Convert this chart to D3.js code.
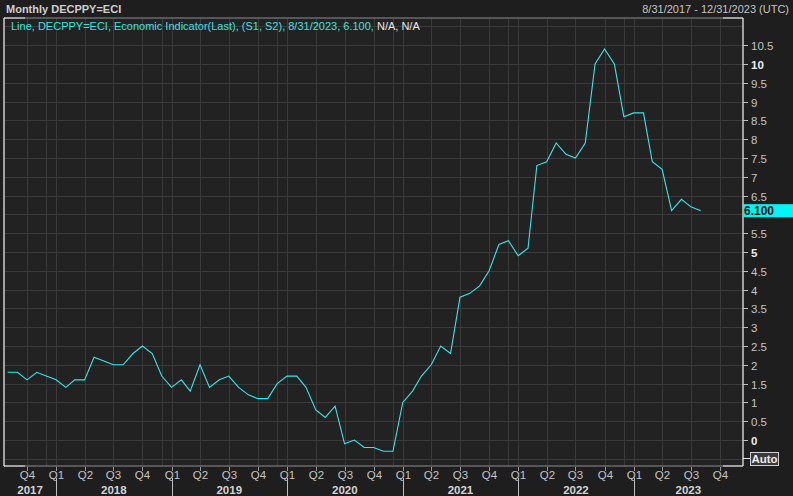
<!DOCTYPE html>
<html>
<head>
<meta charset="utf-8">
<script src="https://cdn.jsdelivr.net/npm/d3@7"></script>
<style>
  html, body { margin: 0; padding: 0; background: #1e1e1e; }
  svg { display: block; }
</style>
</head>
<body>
<svg id="chart" width="793" height="496"></svg>
<script>
// ---------- data ----------
const startMonth = "2017-08-01"; // first monthly observation
const values = [
  // 2017 Aug-Dec
  1.8, 1.8, 1.6, 1.8, 1.7,
  // 2018
  1.6, 1.4, 1.6, 1.6, 2.2, 2.1, 2.0, 2.0, 2.3, 2.5, 2.3, 1.7,
  // 2019
  1.4, 1.6, 1.3, 2.0, 1.4, 1.6, 1.7, 1.4, 1.2, 1.1, 1.1, 1.5,
  // 2020
  1.7, 1.7, 1.4, 0.8, 0.6, 0.9, -0.1, 0.0, -0.2, -0.2, -0.3, -0.3,
  // 2021
  1.0, 1.3, 1.7, 2.0, 2.5, 2.3, 3.8, 3.9, 4.1, 4.5, 5.2, 5.3,
  // 2022
  4.9, 5.1, 7.3, 7.4, 7.9, 7.6, 7.5, 7.9, 10.0, 10.4, 10.0, 8.6,
  // 2023 Jan-Aug
  8.7, 8.7, 7.4, 7.2, 6.1, 6.4, 6.2, 6.1
];
const yTicks = [0, 0.5, 1, 1.5, 2, 2.5, 3, 3.5, 4, 4.5, 5, 5.5, 6, 6.5, 7, 7.5, 8, 8.5, 9, 9.5, 10, 10.5];
const yBoldTicks = [0, 5, 10];
const yHiddenLabels = [6]; // covered by the last-value tag
const years = [2017, 2018, 2019, 2020, 2021, 2022, 2023];
const lastValueLabel = "6.100";
const titleText = "Monthly DECPPY=ECI";
const rangeText = "8/31/2017 - 12/31/2023 (UTC)";
const legendCyan = "Line, DECPPY=ECI, Economic Indicator(Last), (S1, S2), 8/31/2023, 6.100, ";
const legendWhite = "N/A, N/A";

// ---------- layout ----------
const L = 4, R = 743, T = 18, B = 466;
const FONT = "Liberation Sans, Arial, sans-serif";
const FS = 11;
const svg = d3.select("#chart");

const parse = d3.utcParse("%Y-%m-%d");
const d0 = parse(startMonth);
const data = values.map((v, i) => ({ date: d3.utcMonth.offset(d0, i), value: v }));

const x = d3.scaleUtc()
  .domain([parse("2017-10-01"), parse("2023-10-01")])
  .range([27, 720]);
const y = d3.scaleLinear().domain([0, 10]).range([440, 64]);

// backgrounds
svg.append("rect").attr("width", 793).attr("height", 496).attr("fill", "#1e1e1e");
svg.append("rect").attr("x", L).attr("y", T).attr("width", R - L).attr("height", B - T).attr("fill", "#222222");

svg.append("defs").append("clipPath").attr("id", "clip")
  .append("rect").attr("x", L).attr("y", T).attr("width", R - L).attr("height", B - T);

const grid = svg.append("g").attr("clip-path", "url(#clip)");

// horizontal grid every 0.5
const hGrid = d3.range(-1, 23).map(i => i * 0.5);
grid.selectAll("line.h").data(hGrid).join("line")
  .attr("x1", L).attr("x2", R)
  .attr("y1", d => Math.round(y(d)) + 0.5).attr("y2", d => Math.round(y(d)) + 0.5)
  .attr("stroke", "#3a3a3a").attr("stroke-width", 1);

// vertical grid at quarter starts and at Dec 1 of each year
const quarters = d3.utcMonth.every(3).range(parse("2017-10-01"), parse("2023-10-02"));
const decs = years.slice(0, 6).map(yr => parse(yr + "-12-01"));
grid.selectAll("line.vq").data(quarters.concat(decs)).join("line")
  .attr("y1", T).attr("y2", B)
  .attr("x1", d => Math.round(x(d)) + 0.5).attr("x2", d => Math.round(x(d)) + 0.5)
  .attr("stroke", "#3a3a3a").attr("stroke-width", 1);

// the series line
const line = d3.line().x(d => x(d.date)).y(d => y(d.value));
grid.append("path").datum(data)
  .attr("d", line)
  .attr("fill", "none")
  .attr("stroke", "#33e8e8")
  .attr("stroke-width", 1.1);

// frame
const frame = svg.append("g").attr("stroke-width", 1.3);
frame.append("line").attr("x1", L).attr("x2", L).attr("y1", T).attr("y2", B).attr("stroke", "#e8e8e8");
frame.append("line").attr("x1", R).attr("x2", R).attr("y1", T).attr("y2", B).attr("stroke", "#e8e8e8");
[T, B].forEach(yy => {
  frame.append("line").attr("x1", L).attr("x2", x(parse("2017-10-01")) - 2).attr("y1", yy).attr("y2", yy).attr("stroke", "#e8e8e8");
  frame.append("line").attr("x1", x(parse("2017-10-01")) - 2).attr("x2", x(parse("2023-10-01")) + 3).attr("y1", yy).attr("y2", yy).attr("stroke", "#6a6a6a");
  frame.append("line").attr("x1", x(parse("2023-10-01")) + 3).attr("x2", R).attr("y1", yy).attr("y2", yy).attr("stroke", "#e8e8e8");
});

// ---------- y axis (right) ----------
const yAxis = svg.append("g");
yTicks.forEach(v => {
  const yy = Math.round(y(v)) + 0.5;
  yAxis.append("line").attr("x1", R).attr("x2", R + 5).attr("y1", yy).attr("y2", yy).attr("stroke", "#bdbdbd");
  if (yHiddenLabels.includes(v)) return;
  const bold = yBoldTicks.includes(v);
  yAxis.append("text").attr("x", 751).attr("y", yy).attr("dy", "0.36em")
    .attr("font-family", FONT).attr("font-size", 11.5)
    .attr("font-weight", bold ? "bold" : "normal")
    .attr("fill", bold ? "#ececec" : "#c4c4c4")
    .text(v);
});
// Auto button
yAxis.append("line").attr("x1", R).attr("x2", 751).attr("y1", 458.5).attr("y2", 458.5).attr("stroke", "#e8e8e8");
yAxis.append("rect").attr("x", 750.5).attr("y", 452.5).attr("width", 28).attr("height", 13)
  .attr("fill", "#3a3a3a").attr("stroke", "#cfcfcf").attr("stroke-width", 1);
yAxis.append("text").attr("x", 764.5).attr("y", 459).attr("dy", "0.36em").attr("text-anchor", "middle")
  .attr("font-family", FONT).attr("font-size", 11.5).attr("font-weight", "bold").attr("fill", "#ececec").text("Auto");

// last value tag
const lastY = y(values[values.length - 1]);
yAxis.append("rect").attr("x", R).attr("y", lastY - 6.5).attr("width", 793 - R).attr("height", 13).attr("fill", "#00f5f5");
yAxis.append("text").attr("x", 744).attr("y", lastY).attr("dy", "0.37em")
  .attr("font-family", FONT).attr("font-size", 12).attr("font-weight", "bold").attr("fill", "#111").text(lastValueLabel);

// ---------- x axis ----------
const xAxis = svg.append("g");
quarters.forEach(d => {
  const xx = Math.round(x(d)) + 0.5;
  xAxis.append("line").attr("x1", xx).attr("x2", xx).attr("y1", B + 1).attr("y2", B + 5).attr("stroke", "#9a9a9a");
  xAxis.append("text").attr("x", xx).attr("y", 479).attr("text-anchor", "middle")
    .attr("font-family", FONT).attr("font-size", 11.5).attr("fill", "#c4c4c4")
    .text("Q" + (Math.floor(d.getUTCMonth() / 3) + 1));
});
years.forEach(yr => {
  const a = Math.max(L, x(parse(yr + "-01-01")));
  const b = Math.min(R, x(parse((yr + 1) + "-01-01")));
  if (yr > years[0]) {
    const xx = Math.round(x(parse(yr + "-01-01"))) + 0.5;
    xAxis.append("line").attr("x1", xx).attr("x2", xx).attr("y1", 478).attr("y2", 496).attr("stroke", "#bdbdbd");
  }
  xAxis.append("text").attr("x", (a + b) / 2).attr("y", 494).attr("text-anchor", "middle")
    .attr("font-family", FONT).attr("font-size", 11.5).attr("font-weight", "bold").attr("fill", "#d4d4d4")
    .text(yr);
});

// ---------- header & legend ----------
svg.append("text").attr("x", 6).attr("y", 13)
  .attr("font-family", FONT).attr("font-size", FS).attr("font-weight", "bold").attr("fill", "#cfcfcf")
  .text(titleText);
svg.append("text").attr("x", 789).attr("y", 13).attr("text-anchor", "end")
  .attr("font-family", FONT).attr("font-size", FS).attr("fill", "#c4c4c4")
  .text(rangeText);
const leg = svg.append("text").attr("x", 11).attr("y", 30)
  .attr("font-family", FONT).attr("font-size", FS);
leg.append("tspan").attr("fill", "#3ee0e0").text(legendCyan);
leg.append("tspan").attr("fill", "#e6e6e6").text(legendWhite);
</script>
</body>
</html>
